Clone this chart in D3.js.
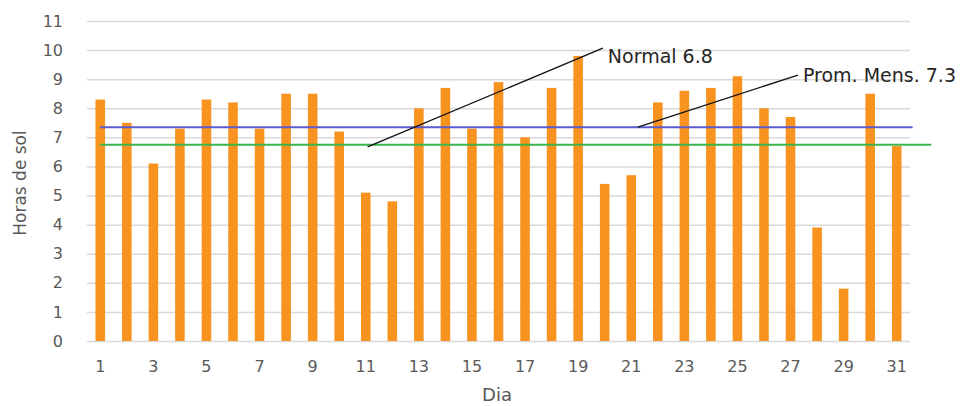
<!doctype html>
<html lang="es">
  <script src='https://d3js.org/d3.v7.min.js'></script>
  <head>
    <meta charset="utf-8">
    <title>Horas de sol</title>
    <style>
      body { margin: 0; background: #fff; }
      text { font-family: "DejaVu Sans", Verdana, sans-serif; }
    </style>
  </head>
  <body>
    <div id="chart">
      <script>
        //variables
        var margin = {top: 21, right: 67, bottom: 65, left: 87},
        width = 977 - margin.left - margin.right,
        height = 406 - margin.top - margin.bottom;

        // horas de sol por dia
        var data = [
          {dia: 1, horas: 8.3}, {dia: 2, horas: 7.5}, {dia: 3, horas: 6.1}, {dia: 4, horas: 7.3},
          {dia: 5, horas: 8.3}, {dia: 6, horas: 8.2}, {dia: 7, horas: 7.3}, {dia: 8, horas: 8.5},
          {dia: 9, horas: 8.5}, {dia: 10, horas: 7.2}, {dia: 11, horas: 5.1}, {dia: 12, horas: 4.8},
          {dia: 13, horas: 8.0}, {dia: 14, horas: 8.7}, {dia: 15, horas: 7.3}, {dia: 16, horas: 8.9},
          {dia: 17, horas: 7.0}, {dia: 18, horas: 8.7}, {dia: 19, horas: 9.8}, {dia: 20, horas: 5.4},
          {dia: 21, horas: 5.7}, {dia: 22, horas: 8.2}, {dia: 23, horas: 8.6}, {dia: 24, horas: 8.7},
          {dia: 25, horas: 9.1}, {dia: 26, horas: 8.0}, {dia: 27, horas: 7.7}, {dia: 28, horas: 3.9},
          {dia: 29, horas: 1.8}, {dia: 30, horas: 8.5}, {dia: 31, horas: 6.7}
        ];

        // lineas de referencia (desde / hasta en dias)
        var refs = [
          {name: "Prom. Mens.", value: 7.35, from: 1, to: 31.6, color: "#5b5bd0"},
          {name: "Normal", value: 6.75, from: 1, to: 32.3, color: "#3cb44b"}
        ];

        // flechas de las etiquetas
        var notes = [
          {text: "Normal 6.8", x1: 11.07, y1: 6.67, x2: 19.93, y2: 10.07, dy: 8},
          {text: "Prom. Mens. 7.3", x1: 21.25, y1: 7.35, x2: 27.28, y2: 9.14, dy: 0}
        ];

        var svg = d3.select("#chart")
        .append("svg")
        .attr("width", width + margin.left + margin.right)
        .attr("height", height + margin.top + margin.bottom)
        .style("display", "block")
        .append("g")
        .attr("transform", "translate(" + margin.left + "," + margin.top + ")");

        var x = d3.scaleBand().domain(data.map(function(d) { return d.dia; }))
          .range([0, width]).paddingInner(0.64).paddingOuter(0.32);
        var xl = d3.scaleLinear().domain([0.5, 31.5]).range([0, width]);
        var y = d3.scaleLinear().domain([0, 11]).range([height, 0]);

        // grid
        svg.append("g")
        .call(d3.axisLeft(y).tickValues(d3.range(0, 12)).tickSize(-width).tickFormat(""))
        .call(function(g) { g.select(".domain").remove(); })
        .selectAll("line")
        .attr("stroke", "#d9d9d9")
        .attr("stroke-width", 1.5);

        // y axis labels
        svg.append("g")
        .call(d3.axisLeft(y).tickValues(d3.range(0, 12)).tickSize(0).tickPadding(24))
        .call(function(g) { g.select(".domain").remove(); })
        .selectAll("text")
        .style("font-family", "DejaVu Sans")
        .style("font-size", "16px")
        .attr("fill", "#595959");

        // x axis labels, only odd days
        svg.append("g")
        .attr("transform", "translate(0," + height + ")")
        .call(d3.axisBottom(x).tickValues(d3.range(1, 32, 2)).tickSize(0).tickPadding(20))
        .call(function(g) { g.select(".domain").remove(); })
        .selectAll("text")
        .style("font-family", "DejaVu Sans")
        .style("font-size", "16px")
        .attr("fill", "#595959");

        // bars
        svg.selectAll("rect.bar")
        .data(data)
        .enter()
        .append("rect")
        .attr("class", "bar")
        .attr("x", function(d) { return x(d.dia); })
        .attr("width", x.bandwidth())
        .attr("y", function(d) { return y(d.horas); })
        .attr("height", function(d) { return height - y(d.horas); })
        .attr("fill", "#f7931e");

        // reference lines
        svg.selectAll("line.ref")
        .data(refs)
        .enter()
        .append("line")
        .attr("class", "ref")
        .attr("x1", function(d) { return xl(d.from); })
        .attr("x2", function(d) { return xl(d.to); })
        .attr("y1", function(d) { return y(d.value); })
        .attr("y2", function(d) { return y(d.value); })
        .attr("stroke", function(d) { return d.color; })
        .attr("stroke-width", 2);

        // annotations
        svg.selectAll("line.note")
        .data(notes)
        .enter()
        .append("line")
        .attr("class", "note")
        .attr("x1", function(d) { return xl(d.x1); })
        .attr("y1", function(d) { return y(d.y1); })
        .attr("x2", function(d) { return xl(d.x2); })
        .attr("y2", function(d) { return y(d.y2); })
        .attr("stroke", "#111")
        .attr("stroke-width", 1.3);

        svg.selectAll("text.note")
        .data(notes)
        .enter()
        .append("text")
        .attr("class", "note")
        .attr("x", function(d) { return xl(d.x2) + 5; })
        .attr("y", function(d) { return y(d.y2) + d.dy; })
        .attr("dy", "0.35em")
        .style("font-size", "19px")
        .attr("fill", "#262626")
        .text(function(d) { return d.text; });

        // axis titles
        svg.append("text")
        .attr("transform", "rotate(-90)")
        .attr("x", -162)
        .attr("y", -67)
        .attr("dy", "0.35em")
        .style("text-anchor", "middle")
        .style("font-size", "17px")
        .attr("fill", "#595959")
        .text("Horas de sol");

        svg.append("text")
        .attr("x", 410)
        .attr("y", 374)
        .attr("dy", "0.35em")
        .style("text-anchor", "middle")
        .style("font-size", "18px")
        .attr("fill", "#595959")
        .text("Dia");
      </script>
    </div>
  </body>
</html>
